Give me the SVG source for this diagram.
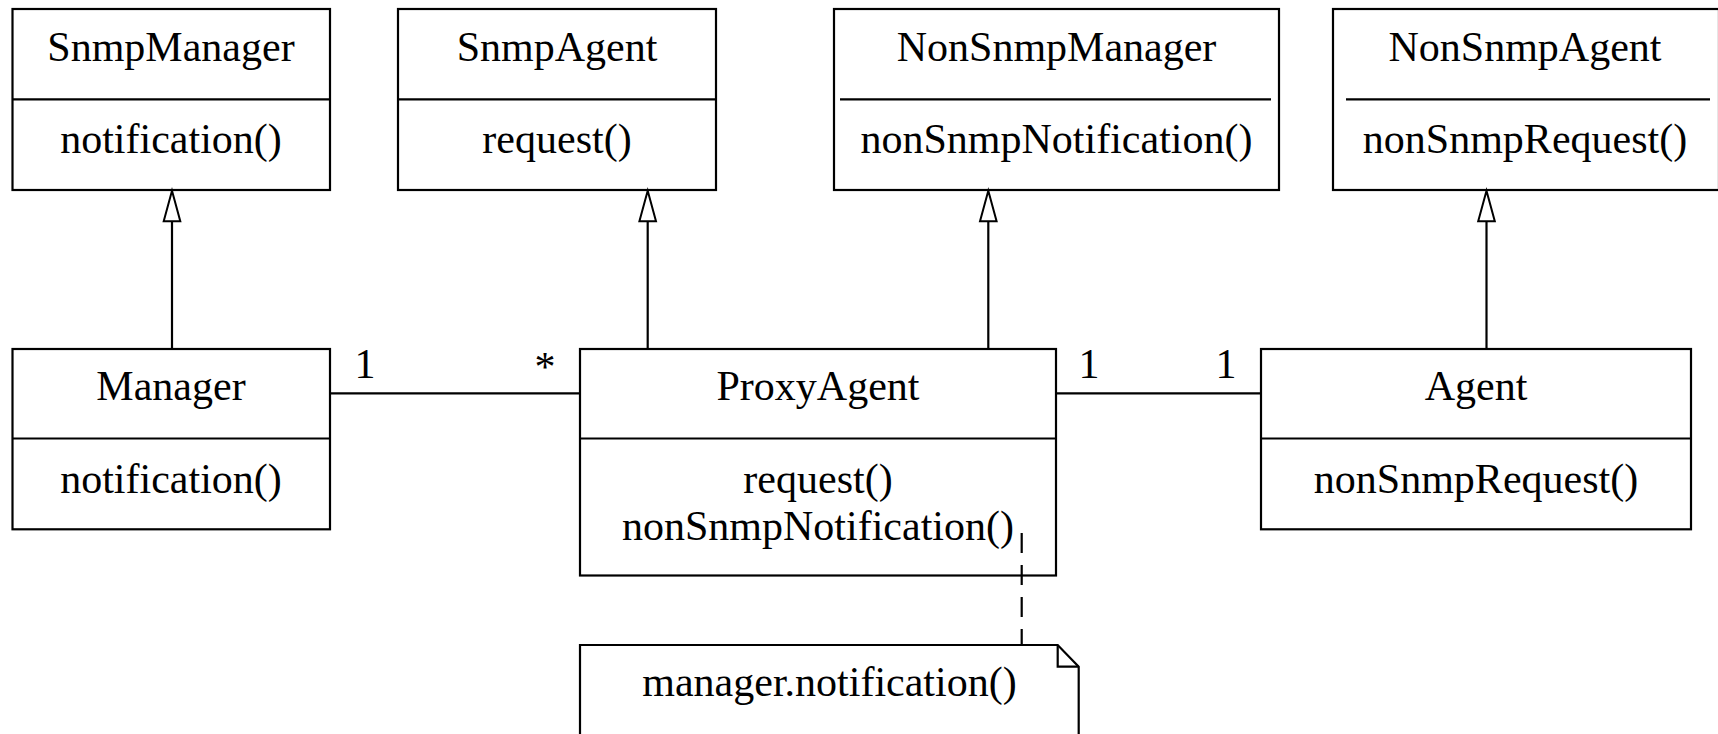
<svg xmlns="http://www.w3.org/2000/svg" width="1718" height="734" viewBox="0 0 1718 734">
  <style>
    .box { fill: #fff; stroke: #000; stroke-width: 2.2; }
    .sep { stroke: #000; stroke-width: 2.2; fill: none; }
    .edge { stroke: #000; stroke-width: 2.2; fill: none; }
    .head { fill: #fff; stroke: #000; stroke-width: 2; }
    .dash { stroke: #000; stroke-width: 2.2; fill: none; stroke-dasharray: 20 12; }
    text { font-family: "Liberation Serif", "Times New Roman", serif; font-size: 42px; fill: #000; }
    .c { text-anchor: middle; }
  </style>

  <rect width="1718" height="734" fill="#fff"/>

  <g id="SnmpManager">
    <rect class="box" x="12.5" y="9" width="317.5" height="181"/>
    <line class="sep" x1="12.5" y1="99.3" x2="330" y2="99.3"/>
    <text class="c" x="171" y="61">SnmpManager</text>
    <text class="c" x="171" y="153">notification()</text>
  </g>

  <g id="SnmpAgent">
    <rect class="box" x="398" y="9" width="318" height="181"/>
    <line class="sep" x1="398" y1="99.3" x2="716" y2="99.3"/>
    <text class="c" x="557" y="61">SnmpAgent</text>
    <text class="c" x="557" y="153">request()</text>
  </g>

  <g id="NonSnmpManager">
    <rect class="box" x="834" y="9" width="445" height="181"/>
    <line class="sep" x1="840" y1="99.3" x2="1271" y2="99.3"/>
    <text class="c" x="1056.5" y="61">NonSnmpManager</text>
    <text class="c" x="1056.5" y="153">nonSnmpNotification()</text>
  </g>

  <g id="NonSnmpAgent">
    <rect class="box" x="1333" y="9" width="386" height="181"/>
    <line class="sep" x1="1346" y1="99.3" x2="1710" y2="99.3"/>
    <text class="c" x="1525" y="61">NonSnmpAgent</text>
    <text class="c" x="1525" y="153">nonSnmpRequest()</text>
  </g>

  <g id="Manager">
    <rect class="box" x="12.5" y="349" width="317.5" height="180.3"/>
    <line class="sep" x1="12.5" y1="438.5" x2="330" y2="438.5"/>
    <text class="c" x="171" y="400">Manager</text>
    <text class="c" x="171" y="493">notification()</text>
  </g>

  <g id="ProxyAgent">
    <rect class="box" x="580" y="349" width="476" height="226.5"/>
    <line class="sep" x1="580" y1="438.5" x2="1056" y2="438.5"/>
    <text class="c" x="818" y="400">ProxyAgent</text>
    <text class="c" x="818" y="493">request()</text>
    <text class="c" x="818" y="540">nonSnmpNotification()</text>
  </g>

  <g id="Agent">
    <rect class="box" x="1261" y="349" width="430" height="180.3"/>
    <line class="sep" x1="1261" y1="438.5" x2="1691" y2="438.5"/>
    <text class="c" x="1476" y="400">Agent</text>
    <text class="c" x="1476" y="493">nonSnmpRequest()</text>
  </g>

  <g id="note">
    <path class="box" d="M580,745 V645 H1057.7 L1078.7,666.7 V745"/>
    <path class="sep" d="M1057.7,645 V666.7 H1078.7"/>
    <text class="c" x="829.5" y="696">manager.notification()</text>
  </g>

  <!-- connectors -->
  <g id="connectors">
    <!-- generalizations: line plus hollow triangle at the superclass -->
    <line class="edge" x1="172" y1="349" x2="172" y2="221"/>
    <line class="edge" x1="647.7" y1="349" x2="647.7" y2="221"/>
    <line class="edge" x1="988.3" y1="349" x2="988.3" y2="221"/>
    <line class="edge" x1="1486.5" y1="349" x2="1486.5" y2="221"/>
    <path class="head" d="M172,190.7 l8.3,30.5 h-16.6 Z"/>
    <path class="head" d="M647.7,190.7 l8.3,30.5 h-16.6 Z"/>
    <path class="head" d="M988.3,190.7 l8.3,30.5 h-16.6 Z"/>
    <path class="head" d="M1486.5,190.7 l8.3,30.5 h-16.6 Z"/>

    <!-- associations with multiplicities -->
    <line class="edge" x1="330" y1="393.3" x2="580" y2="393.3"/>
    <line class="edge" x1="1056" y1="393.3" x2="1261" y2="393.3"/>
    <text class="c" x="365" y="378">1</text>
    <text class="c" x="545" y="381">*</text>
    <text class="c" x="1089" y="378">1</text>
    <text class="c" x="1226" y="378">1</text>

    <!-- note anchor -->
    <line class="dash" x1="1021.7" y1="533" x2="1021.7" y2="645"/>
  </g>
</svg>
